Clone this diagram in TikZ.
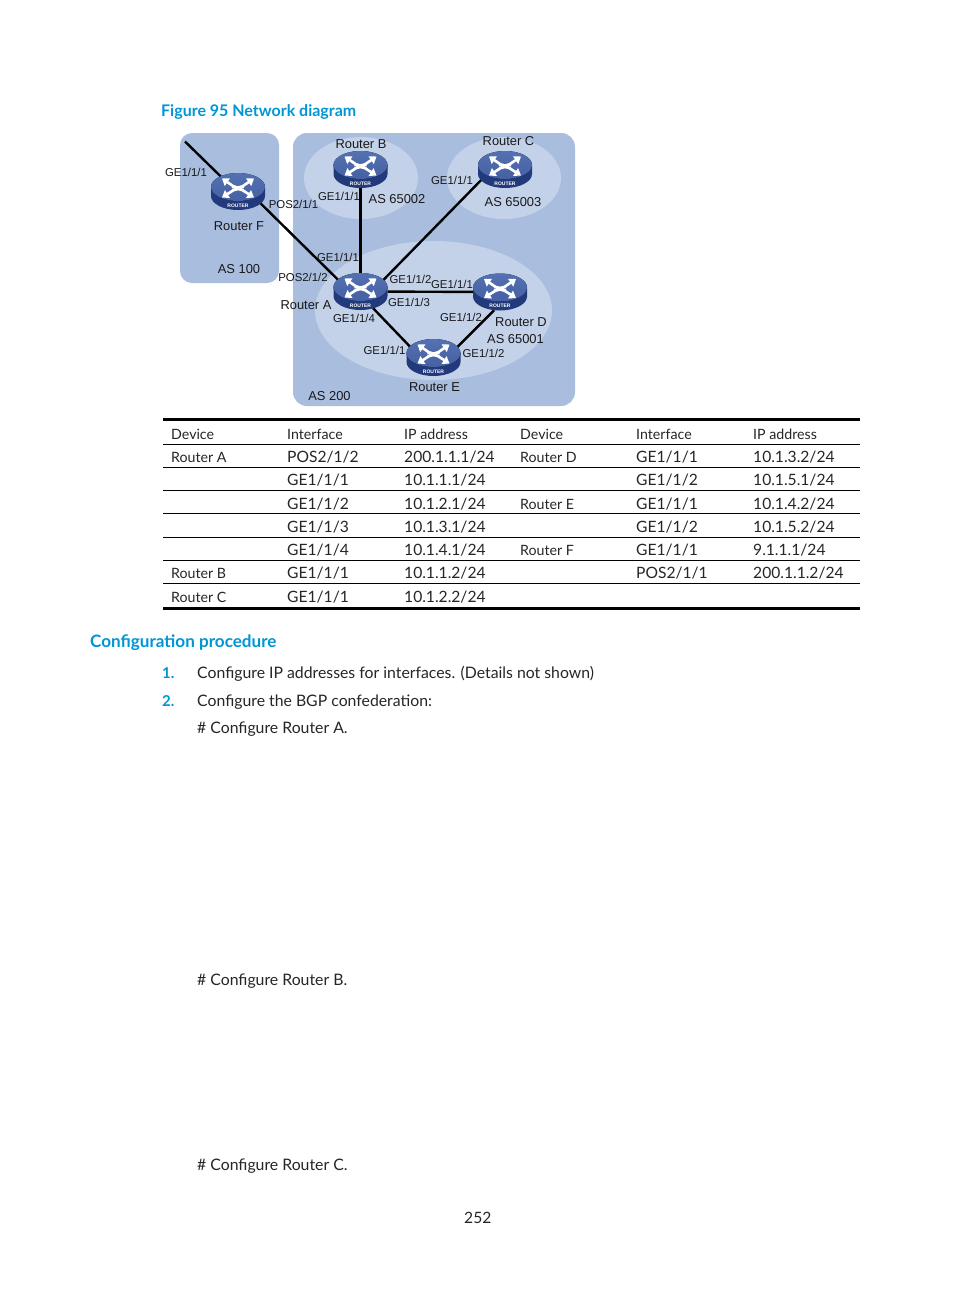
\documentclass[tikz,border=0pt]{standalone}
\usepackage{fontspec}
\setmainfont{Lato}
\newfontfamily\figfont{Liberation Sans}
\usepackage{xcolor}
\usetikzlibrary{arrows.meta,positioning,shapes.geometric,shadings}
\definecolor{hpblue}{HTML}{0096D6}
\definecolor{asdark}{HTML}{A9BDDE}
\definecolor{aslight}{HTML}{C3D2E9}
\definecolor{rtop}{HTML}{5471B2}
\definecolor{rtopb}{HTML}{4560A3}
\definecolor{rside}{HTML}{223A7C}
\tikzset{
  pics/router/.style={code={
    \fill[rside] (-27,-4.5) -- (-27,4.5) arc[start angle=180,end angle=360,x radius=27pt,y radius=14pt] -- (27,-4.5) -- cycle;
    \fill[top color=rtop,bottom color=rtopb] (0,-4.5) ellipse[x radius=27pt,y radius=14pt];
    \draw[rar] (6,-1.5) to[out=180,in=-35] (-5,-5.5) -- (-16,-13);
    \draw[rar] (-6,-1.5) to[out=0,in=215] (5,-5.5) -- (16,-13);
    \draw[rar] (6,-5) to[out=180,in=35] (-5,-1) -- (-16,6);
    \draw[rar] (-6,-5) to[out=0,in=145] (5,-1) -- (16,6);
    \node[text=white,font=\figfont\bfseries\fontsize{5}{5}\selectfont,inner sep=0pt] (-txt) at (0,14) {ROUTER};
  }}}
\begin{document}
\begin{tikzpicture}[x=1pt,y=-1pt,
  rar/.style={white,line width=2.6pt,-{Triangle[length=6.5pt,width=9pt]}},
  rnode/.style={ellipse,minimum width=54pt,minimum height=37pt,inner sep=0pt},
  lnk/.style={black,line width=2.4pt},
  lb/.style={font=\figfont\fontsize{12.9}{14}\selectfont,inner sep=0pt,text=black!90},
  pt/.style={font=\figfont\fontsize{11.4}{14}\selectfont,inner sep=0pt,text=black!90},
  cell/.style={anchor=west,inner sep=0pt,text height=12pt,text depth=1pt,font=\fontsize{14.2}{18}\selectfont,text=black!85},
  val/.style={cell,font=\fontsize{15.6}{18}\selectfont},
  para/.style={cell,font=\fontsize{15.8}{19}\selectfont},
  rul/.style={black,line width=0.8pt},
  thk/.style={black,line width=3pt},
  head/.style={anchor=west,inner sep=0pt,text=hpblue,font=\bfseries\fontsize{16}{20}\selectfont},
  num/.style={anchor=west,inner sep=0pt,text height=12pt,text depth=1pt,text=hpblue,font=\bfseries\fontsize{15}{18}\selectfont}]
  \useasboundingbox (0,0) rectangle (954,1296);
  \fill[white] (0,0) rectangle (954,1296);
  % Heading
  \node[head] (fig) at (161,112) {Figure 95 Network diagram};
  % AS areas
  \fill[asdark,rounded corners=12pt] (180,133) rectangle (279,283);
  \fill[asdark,rounded corners=14pt] (293,133) rectangle (575,406);
  \fill[aslight] (361,178) ellipse[x radius=57pt,y radius=41pt];
  \fill[aslight] (504,178) ellipse[x radius=57pt,y radius=41pt];
  \fill[aslight] (433.5,310.5) ellipse[x radius=118.5pt,y radius=69.5pt];
  % Routers
  \node[rnode] (ra) at (360.5,291.5) {};
  \node[rnode] (rb) at (360.5,169.5) {};
  \node[rnode] (rc) at (505,169.5) {};
  \node[rnode] (rd) at (500,292) {};
  \node[rnode] (re) at (433.5,357.5) {};
  \node[rnode] (rf) at (238,191.5) {};
  \coordinate (gf) at (185,141.5);
  % Links
  \draw[lnk] (gf) -- (rf.139);
  \draw[lnk] (rf.-27) -- (ra.153);
  \draw[lnk] (rb) -- (ra);
  \draw[lnk] (rc.203) -- (ra.26);
  \draw[lnk] (ra) -- (rd);
  \draw[lnk] (ra.-53) -- (re.156);
  \draw[lnk] (re.23) -- (rd.-108);
  \pic (pa) at (ra) {router};
  \pic (pb) at (rb) {router};
  \pic (pc) at (rc) {router};
  \pic (pd) at (rd) {router};
  \pic (pe) at (re) {router};
  \pic (pf) at (rf) {router};
  % Labels
  \node[lb] (lf) at (239,226) {Router F};
  \node[lb] (as100) at (239,269) {AS 100};
  \node[pt] (f1) at (186,172) {GE1/1/1};
  \node[pt] (f2) at (293.5,204) {POS2/1/1};
  \node[lb] (lb1) at (361,144) {Router B};
  \node[pt] (b1) at (339,196) {GE1/1/1};
  \node[lb] (as2) at (397,199) {AS 65002};
  \node[lb] (lc) at (508.5,141) {Router C};
  \node[pt] (c1) at (452,180) {GE1/1/1};
  \node[lb] (as3) at (513,202) {AS 65003};
  \node[pt] (a1) at (338,257) {GE1/1/1};
  \node[pt] (apos) at (303,277) {POS2/1/2};
  \node[lb] (la) at (306,305) {Router A};
  \node[pt] (a2) at (410.5,279.5) {GE1/1/2};
  \node[pt] (d1) at (452,284) {GE1/1/1};
  \node[pt] (a3) at (409,302) {GE1/1/3};
  \node[pt] (a4) at (354,318) {GE1/1/4};
  \node[pt] (d2) at (461,317) {GE1/1/2};
  \node[lb] (ld) at (521,322) {Router D};
  \node[lb] (as1) at (515.5,339) {AS 65001};
  \node[pt] (e1) at (384.5,350.5) {GE1/1/1};
  \node[pt] (e2) at (483.5,353) {GE1/1/2};
  \node[lb] (le) at (434.5,387) {Router E};
  \node[lb] (as200) at (329.5,396) {AS 200};
  % Table rules
  \draw[thk] (163,419.5) -- (860,419.5);
  \draw[rul] (163,444.5) -- (860,444.5);
  \draw[rul] (163,467.5) -- (860,467.5);
  \draw[rul] (163,490.5) -- (860,490.5);
  \draw[rul] (163,513.5) -- (860,513.5);
  \draw[rul] (163,537) -- (860,537);
  \draw[rul] (163,560) -- (860,560);
  \draw[rul] (163,583.5) -- (860,583.5);
  \draw[thk] (163,608) -- (860,608);
  % Table, left half
  \node[cell] (h1) at (171,434) {Device};
  \node[cell] (h2) at (287,434) {Interface};
  \node[cell] (h3) at (404,434) {IP address};
  \node[cell] (t11) at (171,457) {Router A};
  \node[val] (t12) at (287,457) {POS2/1/2};
  \node[val] (t13) at (404,457) {200.1.1.1/24};
  \node[val] (t22) at (287,480) {GE1/1/1};
  \node[val] (t23) at (404,480) {10.1.1.1/24};
  \node[val] (t32) at (287,503.5) {GE1/1/2};
  \node[val] (t33) at (404,503.5) {10.1.2.1/24};
  \node[val] (t42) at (287,526.5) {GE1/1/3};
  \node[val] (t43) at (404,526.5) {10.1.3.1/24};
  \node[val] (t52) at (287,550) {GE1/1/4};
  \node[val] (t53) at (404,550) {10.1.4.1/24};
  \node[cell] (t61) at (171,573) {Router B};
  \node[val] (t62) at (287,573) {GE1/1/1};
  \node[val] (t63) at (404,573) {10.1.1.2/24};
  \node[cell] (t71) at (171,596.5) {Router C};
  \node[val] (t72) at (287,596.5) {GE1/1/1};
  \node[val] (t73) at (404,596.5) {10.1.2.2/24};
  % Table, right half
  \node[cell] (h4) at (520,434) {Device};
  \node[cell] (h5) at (636,434) {Interface};
  \node[cell] (h6) at (753,434) {IP address};
  \node[cell] (t14) at (520,457) {Router D};
  \node[val] (t15) at (636,457) {GE1/1/1};
  \node[val] (t16) at (753,457) {10.1.3.2/24};
  \node[val] (t25) at (636,480) {GE1/1/2};
  \node[val] (t26) at (753,480) {10.1.5.1/24};
  \node[cell] (t34) at (520,503.5) {Router E};
  \node[val] (t35) at (636,503.5) {GE1/1/1};
  \node[val] (t36) at (753,503.5) {10.1.4.2/24};
  \node[val] (t45) at (636,526.5) {GE1/1/2};
  \node[val] (t46) at (753,526.5) {10.1.5.2/24};
  \node[cell] (t54) at (520,550) {Router F};
  \node[val] (t55) at (636,550) {GE1/1/1};
  \node[val] (t56) at (753,550) {9.1.1.1/24};
  \node[val] (t65) at (636,573) {POS2/1/1};
  \node[val] (t66) at (753,573) {200.1.1.2/24};
  % Procedure
  \node[head,font=\bfseries\fontsize{17.1}{22}\selectfont] (proc) at (90,643) {Configuration procedure};
  \node[num] (n1) at (162,673) {1.};
  \node[para] (s1) at (197,673) {Configure IP addresses for interfaces. (Details not shown)};
  \node[num] (n2) at (162,701) {2.};
  \node[para] (s2) at (197,701) {Configure the BGP confederation:};
  \node[para] (s3) at (197,728) {\# Configure Router A.};
  \node[para] (s4) at (197,980) {\# Configure Router B.};
  \node[para] (s5) at (197,1165) {\# Configure Router C.};
  \node[val] (pg) at (464,1218) {252};
\end{tikzpicture}
\end{document}
